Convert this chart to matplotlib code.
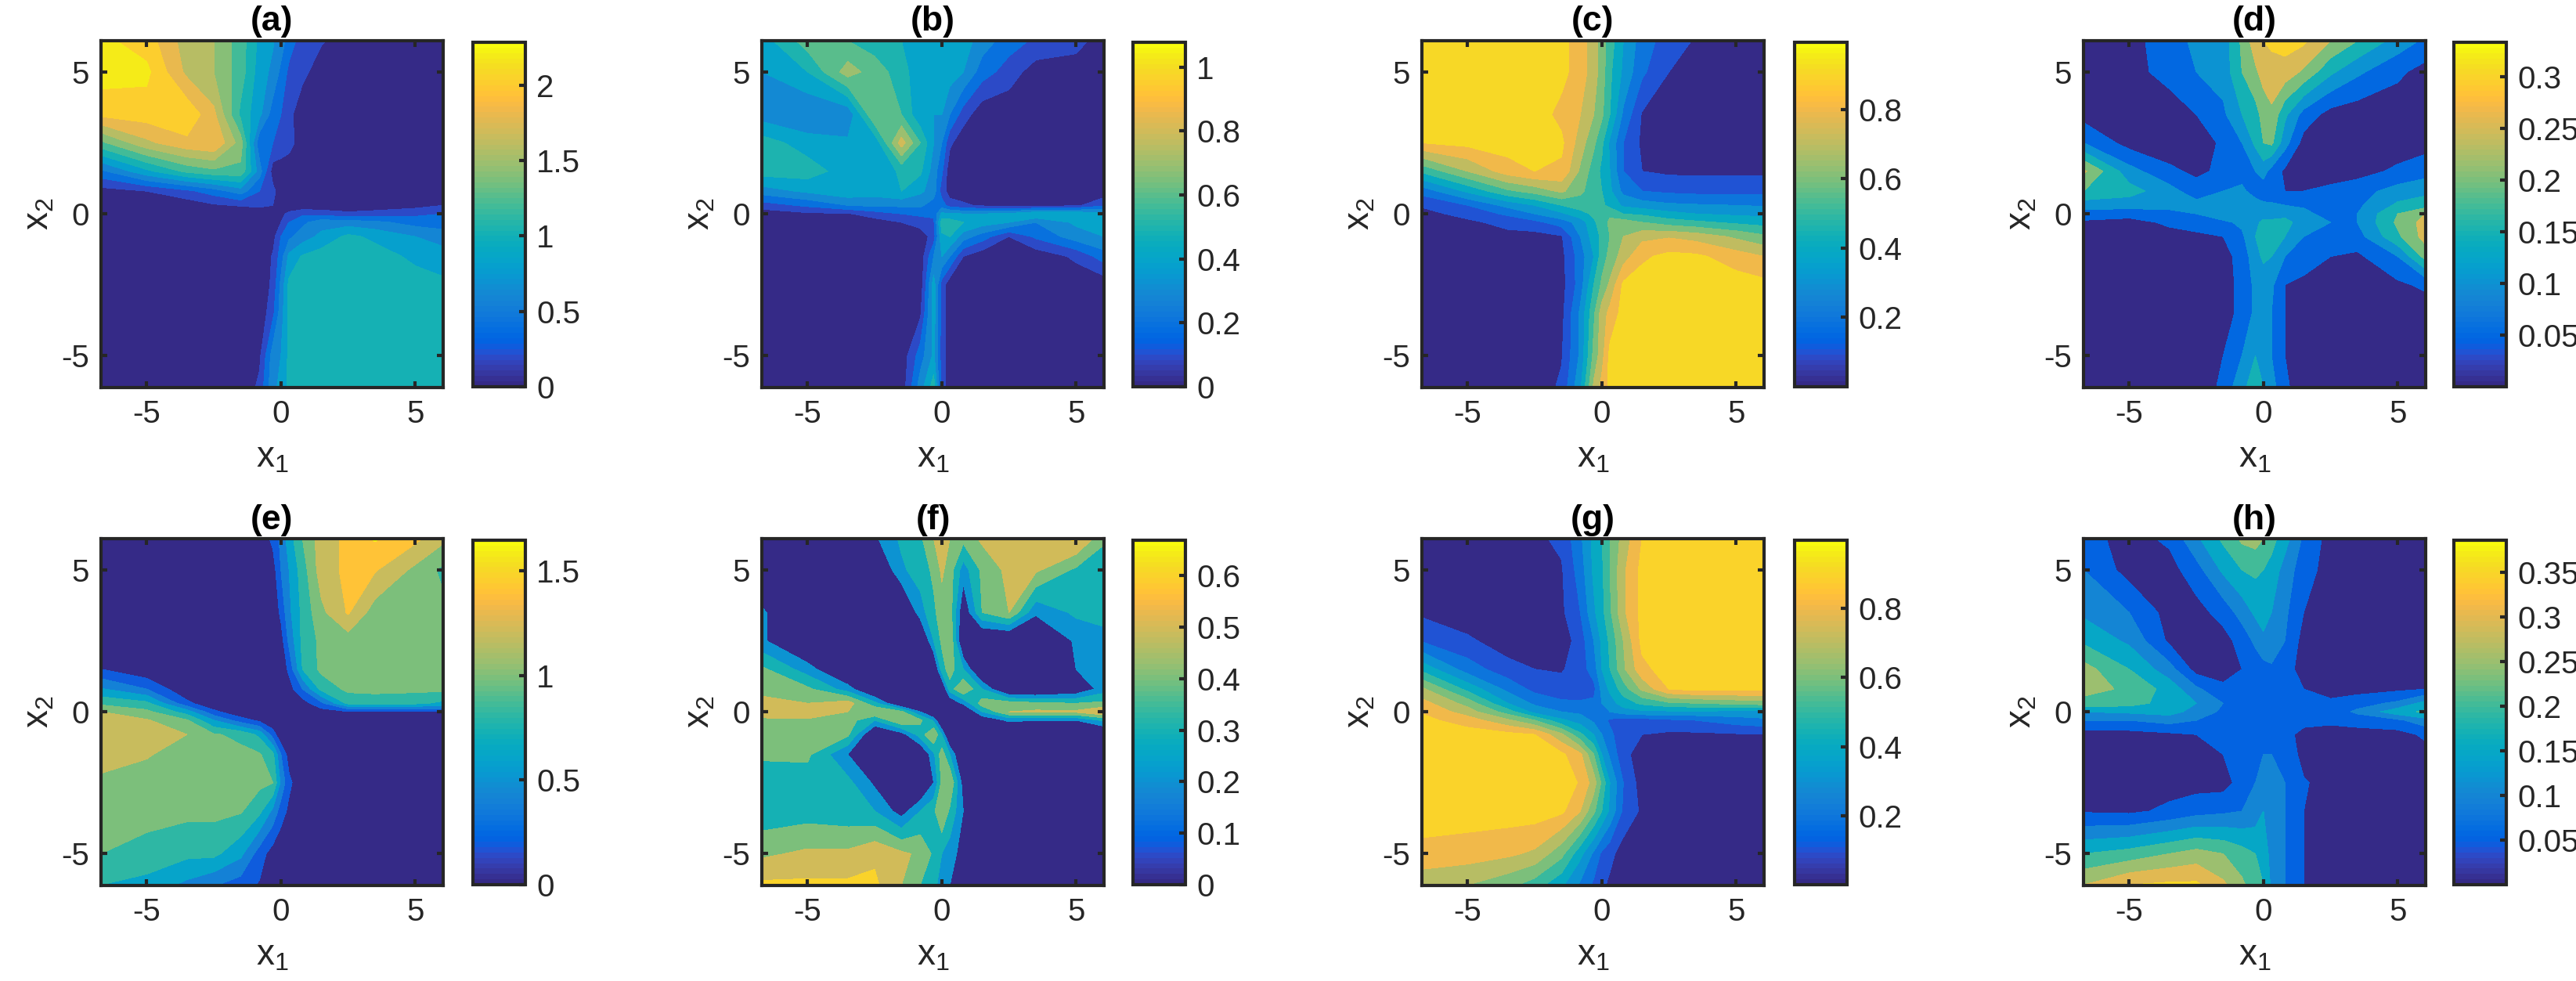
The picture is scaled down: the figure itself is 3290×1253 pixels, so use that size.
import numpy as np
import matplotlib
matplotlib.use('Agg')
import matplotlib.pyplot as plt
from matplotlib.colors import ListedColormap, Normalize
from matplotlib.cm import ScalarMappable

plt.rcParams['font.family'] = ['Liberation Sans', 'DejaVu Sans']
plt.rcParams['mathtext.fontset'] = 'custom'
plt.rcParams['mathtext.rm'] = 'Liberation Sans'
plt.rcParams['mathtext.it'] = 'Liberation Sans'
plt.rcParams['axes.unicode_minus'] = False

# parula, 64 steps
parula = ListedColormap([
    [0.2081, 0.1663, 0.5292], [0.2116, 0.1898, 0.5777], [0.2123, 0.2138, 0.6270], [0.2081, 0.2386, 0.6771],
    [0.1959, 0.2645, 0.7279], [0.1707, 0.2919, 0.7792], [0.1253, 0.3242, 0.8303], [0.0591, 0.3598, 0.8683],
    [0.0117, 0.3875, 0.8820], [0.0060, 0.4086, 0.8828], [0.0165, 0.4266, 0.8786], [0.0329, 0.4430, 0.8720],
    [0.0498, 0.4586, 0.8641], [0.0629, 0.4737, 0.8554], [0.0723, 0.4887, 0.8467], [0.0779, 0.5040, 0.8384],
    [0.0793, 0.5200, 0.8312], [0.0749, 0.5375, 0.8263], [0.0641, 0.5570, 0.8240], [0.0488, 0.5772, 0.8228],
    [0.0343, 0.5966, 0.8199], [0.0265, 0.6137, 0.8135], [0.0239, 0.6287, 0.8038], [0.0231, 0.6418, 0.7913],
    [0.0228, 0.6535, 0.7768], [0.0267, 0.6642, 0.7607], [0.0384, 0.6743, 0.7436], [0.0590, 0.6838, 0.7254],
    [0.0843, 0.6928, 0.7062], [0.1133, 0.7015, 0.6859], [0.1453, 0.7098, 0.6646], [0.1801, 0.7177, 0.6424],
    [0.2178, 0.7250, 0.6193], [0.2586, 0.7317, 0.5954], [0.3022, 0.7376, 0.5712], [0.3482, 0.7424, 0.5473],
    [0.3953, 0.7459, 0.5244], [0.4420, 0.7481, 0.5033], [0.4871, 0.7491, 0.4840], [0.5300, 0.7491, 0.4661],
    [0.5709, 0.7485, 0.4494], [0.6099, 0.7473, 0.4337], [0.6473, 0.7456, 0.4188], [0.6834, 0.7435, 0.4044],
    [0.7184, 0.7411, 0.3905], [0.7525, 0.7384, 0.3768], [0.7858, 0.7356, 0.3633], [0.8185, 0.7327, 0.3498],
    [0.8507, 0.7299, 0.3360], [0.8824, 0.7274, 0.3217], [0.9139, 0.7258, 0.3063], [0.9450, 0.7261, 0.2886],
    [0.9739, 0.7314, 0.2666], [0.9938, 0.7455, 0.2403], [0.9990, 0.7653, 0.2164], [0.9955, 0.7861, 0.1967],
    [0.9880, 0.8066, 0.1794], [0.9789, 0.8271, 0.1633], [0.9697, 0.8481, 0.1475], [0.9626, 0.8705, 0.1309],
    [0.9589, 0.8949, 0.1132], [0.9598, 0.9218, 0.0948], [0.9661, 0.9514, 0.0755], [0.9763, 0.9831, 0.0538]])

# grid the values were read on (rows run top to bottom)
x1 = [-6.7, -5, -3.5, -2.5, -1.5, -.8, -.3, 0, .3, .8, 1.5, 2.5, 3.5, 5, 6.04]
x2 = [6.1, 5, 3.5, 2.5, 1.5, .8, .3, 0, -.3, -.8, -1.5, -2.5, -3.5, -5, -6.1]

za = [[2.25, 2.1, 1.7, 1.6, 1.3, .95, .82, .7, .5, .3, .22, .1, .05, .05, .05],
      [2.3, 2.25, 1.75, 1.6, 1.3, .9, .75, .55, .35, .25, .1, .05, .05, .05, .05],
      [2.05, 2.1, 2.15, 1.85, 1.15, .85, .5, .4, .25, .08, .04, .04, .04, .04, .04],
      [1.35, 1.75, 1.95, 2.0, 1.5, .45, .4, .38, .3, .05, .04, .04, .04, .04, .04],
      [.55, .95, 1.25, 1.35, 1.35, .7, .1, .05, .03, .03, .03, .03, .03, .03, .03],
      [.12, .2, .35, .5, .7, .4, .25, .1, .03, .03, .03, .03, .03, .03, .03],
      [.05, .05, .08, .17, .22, .25, .2, .08, .05, .05, .05, .04, .04, .12, .2],
      [.02, .02, .02, .02, .02, .03, .03, .15, .25, .35, .32, .25, .3, .35, .4],
      [.02, .02, .02, .02, .02, .02, .05, .2, .4, .55, .72, .7, .65, .52, .48],
      [.02, .02, .02, .02, .02, .02, .12, .4, .55, .7, .85, 1.05, .95, .8, .72],
      [.02, .02, .02, .02, .02, .03, .22, .5, .85, 1.02, 1.1, 1.1, 1.1, .95, .88],
      [.02, .02, .02, .02, .02, .03, .25, .65, 1.05, 1.1, 1.1, 1.1, 1.1, 1.1, 1.05],
      [.02, .02, .02, .02, .02, .03, .35, .7, 1.05, 1.1, 1.1, 1.1, 1.1, 1.1, 1.1],
      [.02, .02, .02, .02, .02, .15, .7, .8, 1.05, 1.1, 1.1, 1.1, 1.1, 1.1, 1.1],
      [.02, .02, .02, .02, .02, .25, .75, .85, 1.05, 1.1, 1.1, 1.1, 1.1, 1.1, 1.1]]

zb = [[.45, .65, .6, .55, .5, .45, .45, .48, .48, .45, .35, .25, .18, .15, .03],
      [.4, .5, .75, .65, .55, .42, .45, .45, .45, .4, .25, .15, .05, .03, .03],
      [.35, .3, .32, .7, .6, .42, .4, .4, .3, .15, .03, .03, .03, .03, .03],
      [.55, .45, .42, .42, .85, .6, .4, .3, .12, .03, .03, .03, .03, .03, .03],
      [.55, .55, .45, .42, .52, .52, .35, .22, .03, .03, .03, .03, .03, .03, .03],
      [.35, .42, .48, .45, .5, .42, .35, .15, .05, .03, .03, .03, .03, .03, .03],
      [.15, .22, .3, .32, .32, .32, .25, .25, .15, .12, .08, .05, .05, .08, .18],
      [.04, .08, .09, .15, .2, .22, .22, .42, .42, .4, .4, .42, .5, .48, .45],
      [.03, .03, .03, .05, .1, .15, .18, .55, .55, .5, .45, .4, .3, .42, .48],
      [.03, .03, .03, .03, .03, .03, .15, .48, .5, .35, .25, .1, .22, .35, .4],
      [.03, .03, .03, .03, .03, .03, .3, .4, .3, .1, .03, .03, .03, .12, .25],
      [.03, .03, .03, .03, .03, .03, .45, .15, .03, .03, .03, .03, .03, .03, .03],
      [.03, .03, .03, .03, .03, .08, .45, .15, .03, .03, .03, .03, .03, .03, .03],
      [.03, .03, .03, .03, .03, .25, .42, .15, .03, .03, .03, .03, .03, .03, .03],
      [.03, .03, .03, .03, .03, .35, .55, .15, .03, .03, .03, .03, .03, .03, .03]]

zc = [[.95, .95, .95, .95, .93, .85, .75, .65, .55, .4, .25, .15, .09, .04, .03],
      [.95, .95, .95, .95, .93, .85, .75, .65, .52, .38, .22, .1, .05, .03, .02],
      [.95, .95, .95, .95, .87, .8, .7, .62, .5, .28, .09, .03, .02, .02, .02],
      [.9, .93, .95, .95, .92, .75, .62, .52, .38, .2, .08, .03, .02, .02, .02],
      [.52, .7, .85, .9, .88, .68, .55, .48, .4, .2, .1, .08, .08, .08, .08],
      [.24, .42, .58, .64, .72, .62, .55, .5, .42, .27, .2, .18, .17, .17, .17],
      [.11, .2, .33, .4, .5, .55, .55, .52, .47, .38, .35, .32, .31, .3, .29],
      [.07, .13, .22, .3, .38, .46, .52, .55, .58, .5, .48, .43, .4, .38, .37],
      [.04, .08, .13, .17, .25, .34, .48, .55, .62, .65, .6, .55, .52, .48, .46],
      [.04, .04, .07, .06, .09, .3, .45, .52, .6, .7, .77, .79, .76, .68, .62],
      [.03, .03, .03, .03, .07, .25, .4, .55, .63, .75, .88, .93, .92, .85, .8],
      [.03, .03, .03, .03, .06, .25, .5, .62, .72, .92, .95, .95, .95, .95, .93],
      [.03, .03, .03, .03, .07, .32, .58, .75, .83, .94, .95, .95, .95, .95, .95],
      [.03, .03, .03, .03, .09, .32, .63, .76, .93, .95, .95, .95, .95, .95, .95],
      [.03, .03, .03, .03, .12, .38, .72, .83, .93, .95, .95, .95, .95, .95, .95]]

zd = [[.02, .03, .08, .11, .12, .21, .28, .3, .31, .32, .31, .25, .2, .13, .09],
      [.02, .03, .07, .1, .12, .2, .24, .27, .28, .28, .24, .16, .11, .06, .03],
      [.03, .02, .02, .05, .09, .15, .18, .22, .24, .16, .08, .03, .02, .02, .02],
      [.1, .03, .02, .02, .06, .1, .16, .2, .21, .12, .03, .02, .02, .02, .03],
      [.26, .12, .06, .04, .06, .08, .1, .12, .08, .04, .03, .03, .03, .06, .08],
      [.2, .17, .12, .07, .1, .11, .08, .07, .06, .05, .05, .06, .08, .12, .135],
      [.12, .12, .11, .12, .12, .12, .12, .11, .11, .1, .09, .06, .09, .16, .18],
      [.08, .07, .09, .1, .13, .13, .13, .13, .13, .13, .12, .07, .1, .2, .25],
      [.04, .03, .06, .07, .09, .11, .14, .16, .16, .17, .12, .1, .1, .21, .27],
      [.02, .02, .03, .04, .05, .09, .15, .155, .17, .15, .1, .07, .08, .19, .27],
      [.02, .02, .02, .02, .03, .07, .13, .16, .15, .1, .09, .05, .04, .1, .22],
      [.02, .02, .02, .02, .02, .07, .11, .12, .11, .05, .03, .02, .02, .04, .06],
      [.02, .02, .02, .02, .02, .07, .11, .11, .1, .05, .02, .02, .02, .02, .02],
      [.02, .02, .02, .02, .05, .1, .15, .13, .1, .05, .02, .02, .02, .02, .02],
      [.02, .02, .02, .02, .06, .14, .17, .15, .12, .06, .02, .02, .02, .02, .02]]

ze = [[.03, .03, .03, .03, .03, .05, .25, .45, .7, 1.0, 1.3, 1.45, 1.62, 1.45, 1.25],
      [.03, .03, .03, .03, .03, .03, .1, .4, .6, .9, 1.3, 1.45, 1.42, 1.15, .95],
      [.03, .03, .03, .03, .03, .03, .03, .25, .55, .85, 1.15, 1.42, 1.1, 1.05, 1.05],
      [.03, .03, .03, .03, .03, .03, .03, .1, .45, .85, 1.05, 1.1, 1.1, 1.1, 1.1],
      [.2, .03, .03, .03, .03, .03, .03, .03, .25, .8, 1.05, 1.1, 1.1, 1.1, 1.1],
      [.62, .4, .03, .03, .03, .03, .03, .03, .1, .4, .85, 1.05, 1.05, 1.05, 1.05],
      [.95, .85, .25, .03, .03, .03, .03, .03, .03, .1, .35, .85, .9, .85, .75],
      [1.2, 1.05, .7, .25, .03, .03, .03, .03, .03, .03, .1, .18, .18, .18, .18],
      [1.22, 1.22, 1.02, .6, .3, .15, .03, .03, .03, .03, .03, .03, .03, .03, .08],
      [1.3, 1.25, 1.2, 1.02, .95, .75, .3, .03, .03, .03, .03, .03, .03, .03, .03],
      [1.3, 1.22, 1.1, 1.05, 1.05, 1.02, .85, .4, .1, .03, .03, .03, .03, .03, .03],
      [1.15, 1.1, 1.05, 1.05, 1.05, 1.05, 1.0, .55, .25, .03, .03, .03, .03, .03, .03],
      [1.1, 1.05, 1.05, 1.05, 1.02, .85, .55, .3, .15, .03, .03, .03, .03, .03, .03],
      [1.0, .95, .85, .85, .65, .3, .1, .03, .03, .03, .03, .03, .03, .03, .03],
      [.8, .72, .55, .42, .3, .18, .03, .03, .03, .03, .03, .03, .03, .03, .03]]

zf = [[.03, .03, .03, .18, .32, .38, .5, .58, .5, .43, .52, .55, .55, .62, .42],
      [.05, .03, .03, .05, .28, .35, .42, .52, .45, .25, .42, .53, .52, .38, .32],
      [.22, .03, .03, .03, .03, .25, .38, .45, .45, .1, .4, .5, .22, .32, .32],
      [.22, .03, .03, .03, .03, .03, .3, .42, .5, .05, .03, .03, .03, .22, .28],
      [.42, .25, .03, .03, .03, .03, .05, .35, .45, .3, .03, .03, .03, .2, .25],
      [.45, .42, .25, .03, .03, .03, .03, .05, .35, .5, .3, .03, .03, .1, .25],
      [.55, .5, .55, .33, .05, .03, .03, .03, .1, .22, .45, .45, .42, .4, .42],
      [.55, .58, .5, .5, .42, .2, .03, .03, .03, .03, .3, .5, .52, .52, .6],
      [.48, .48, .45, .3, .5, .42, .28, .03, .03, .03, .1, .22, .2, .2, .32],
      [.42, .42, .42, .05, .15, .35, .5, .3, .03, .03, .03, .03, .03, .03, .03],
      [.42, .42, .2, .03, .03, .05, .28, .45, .3, .03, .03, .03, .03, .03, .03],
      [.33, .35, .33, .18, .03, .03, .2, .42, .5, .15, .03, .03, .03, .03, .03],
      [.33, .35, .33, .3, .15, .3, .38, .5, .38, .2, .03, .03, .03, .03, .03],
      [.48, .52, .52, .58, .52, .48, .38, .3, .25, .15, .03, .03, .03, .03, .03],
      [.62, .62, .62, .62, .5, .4, .35, .22, .2, .1, .03, .03, .03, .03, .03]]

zg = [[.03, .03, .03, .08, .12, .28, .43, .5, .6, .74, .9, .95, .95, .95, .95],
      [.03, .03, .03, .05, .09, .25, .42, .48, .6, .78, .93, .95, .95, .95, .95],
      [.08, .03, .03, .03, .08, .2, .38, .47, .58, .78, .93, .95, .95, .95, .95],
      [.19, .12, .04, .03, .04, .15, .3, .42, .52, .7, .93, .95, .95, .95, .95],
      [.47, .25, .14, .1, .09, .15, .25, .4, .5, .68, .87, .95, .95, .95, .95],
      [.72, .47, .27, .17, .14, .12, .17, .33, .42, .55, .72, .9, .93, .93, .92],
      [.84, .66, .4, .28, .22, .22, .22, .3, .35, .45, .52, .58, .6, .63, .65],
      [.89, .75, .55, .36, .3, .28, .25, .25, .3, .35, .38, .38, .38, .37, .36],
      [.93, .85, .72, .6, .42, .35, .28, .24, .18, .15, .15, .18, .2, .25, .28],
      [.95, .95, .93, .9, .72, .52, .4, .3, .23, .12, .1, .08, .08, .09, .09],
      [.95, .95, .95, .95, .92, .82, .6, .4, .28, .13, .05, .03, .03, .03, .03],
      [.95, .95, .95, .95, .95, .89, .75, .58, .4, .2, .05, .03, .03, .03, .03],
      [.95, .95, .95, .95, .92, .8, .62, .5, .38, .18, .08, .03, .03, .03, .03],
      [.87, .85, .82, .78, .63, .43, .28, .18, .13, .05, .03, .03, .03, .03, .03],
      [.73, .7, .63, .55, .42, .28, .18, .12, .08, .05, .03, .03, .03, .03, .03]]

zh = [[.07, .03, .06, .14, .21, .26, .27, .25, .22, .17, .09, .03, .03, .03, .03],
      [.1, .03, .03, .08, .16, .2, .21, .2, .18, .13, .07, .03, .03, .03, .03],
      [.14, .1, .03, .03, .07, .12, .16, .17, .15, .11, .05, .03, .03, .03, .03],
      [.19, .14, .04, .03, .03, .07, .11, .14, .14, .1, .03, .03, .03, .03, .03],
      [.27, .2, .12, .03, .03, .05, .07, .08, .09, .07, .03, .03, .03, .03, .03],
      [.27, .24, .18, .11, .06, .06, .06, .07, .07, .07, .05, .03, .03, .04, .05],
      [.23, .22, .18, .15, .1, .07, .07, .07, .07, .07, .07, .06, .08, .11, .17],
      [.15, .16, .17, .13, .09, .09, .08, .07, .07, .07, .07, .07, .11, .18, .21],
      [.1, .1, .12, .1, .09, .09, .09, .07, .07, .06, .06, .06, .07, .09, .13],
      [.03, .03, .04, .05, .07, .09, .09, .09, .06, .06, .04, .03, .03, .03, .06],
      [.03, .03, .03, .03, .05, .1, .1, .1, .1, .09, .03, .03, .03, .03, .03],
      [.03, .03, .03, .03, .03, .07, .1, .105, .11, .1, .055, .03, .03, .03, .03],
      [.045, .04, .06, .08, .09, .1, .12, .15, .15, .1, .05, .03, .03, .03, .03],
      [.2, .22, .25, .27, .25, .22, .2, .18, .13, .1, .05, .03, .03, .03, .03],
      [.3, .35, .36, .36, .31, .26, .22, .2, .14, .1, .05, .03, .03, .03, .03]]

titles = ['(a)', '(b)', '(c)', '(d)', '(e)', '(f)', '(g)', '(h)']
fields = [za, zb, zc, zd, ze, zf, zg, zh]
bar_max = [2.285, 1.078, .993, .333, 1.646, .669, .998, .386]
levels = [[0, .2, .4, .6, .8, 1, 1.2, 1.4, 1.6, 1.8, 2, 2.2],
          [0, .1, .2, .3, .4, .5, .6, .7, .8, .9, 1],
          [0, .1, .2, .3, .4, .5, .6, .7, .8, .9],
          [0, .05, .1, .15, .2, .25, .3],
          [0, .2, .4, .6, .8, 1, 1.2, 1.4, 1.6],
          [0, .2, .3, .4, .5, .6],
          [0, .1, .2, .3, .4, .5, .6, .7, .8, .9],
          [0, .05, .1, .15, .2, .25, .3, .35]]
bar_ticks = [[0, .5, 1, 1.5, 2], [0, .2, .4, .6, .8, 1], [.2, .4, .6, .8], [.05, .1, .15, .2, .25, .3],
             [0, .5, 1, 1.5], [0, .1, .2, .3, .4, .5, .6], [.2, .4, .6, .8], [.05, .1, .15, .2, .25, .3, .35]]
bar_labels = [['0', '0.5', '1', '1.5', '2'], ['0', '0.2', '0.4', '0.6', '0.8', '1'], ['0.2', '0.4', '0.6', '0.8'],
              ['0.05', '0.1', '0.15', '0.2', '0.25', '0.3'], ['0', '0.5', '1', '1.5'],
              ['0', '0.1', '0.2', '0.3', '0.4', '0.5', '0.6'], ['0.2', '0.4', '0.6', '0.8'],
              ['0.05', '0.1', '0.15', '0.2', '0.25', '0.3', '0.35']]

W, H = 3291, 1253
ax_left = [129, 973, 1816, 2661]
ax_width = 437
bar_left = [604, 1447, 2292, 3134]
bar_width = 67
row_top = [52, 688]
ax_height = 443
bar_height = 440
dark = '#262626'
fs = 29

fig = plt.figure(figsize=(W / 100, H / 100), dpi=100)

for i in range(8):
    row, col = divmod(i, 4)
    ax = fig.add_axes([ax_left[col] / W, 1 - (row_top[row] + ax_height) / H, ax_width / W, ax_height / H])
    norm = Normalize(0, bar_max[i])
    lev = levels[i]
    colors = [parula(norm(v)) for v in lev]
    ax.contourf(x1, x2, np.array(fields[i]), levels=lev + [99], colors=colors)
    ax.set_xlim(-6.7, 6.04)
    ax.set_ylim(-6.12, 6.1)
    ax.set_xticks([-5, 0, 5])
    ax.set_yticks([-5, 0, 5])
    ax.tick_params(direction='in', top=True, right=True, length=6, width=3, color=dark,
                   labelcolor=dark, labelsize=fs, pad=11)
    for s in ax.spines.values():
        s.set_linewidth(3)
        s.set_color(dark)
    ax.set_xlabel(r'$\mathregular{x_1}$', fontsize=fs + 4, color=dark, labelpad=10)
    ax.set_ylabel(r'$\mathregular{x_2}$', fontsize=fs + 4, color=dark, labelpad=5)
    ax.set_title(titles[i], fontsize=32, fontweight='bold', color='black', pad=9)

    cax = fig.add_axes([bar_left[col] / W, 1 - (row_top[row] + 2 + bar_height) / H, bar_width / W, bar_height / H])
    cb = fig.colorbar(ScalarMappable(norm=norm, cmap=parula), cax=cax)
    cb.set_ticks(bar_ticks[i])
    cb.set_ticklabels(bar_labels[i])
    cb.ax.tick_params(direction='in', length=6, width=3, color=dark, labelcolor=dark, labelsize=fs, pad=10)
    cb.outline.set_linewidth(3)
    cb.outline.set_edgecolor(dark)

fig.savefig('out.png', dpi=100)
